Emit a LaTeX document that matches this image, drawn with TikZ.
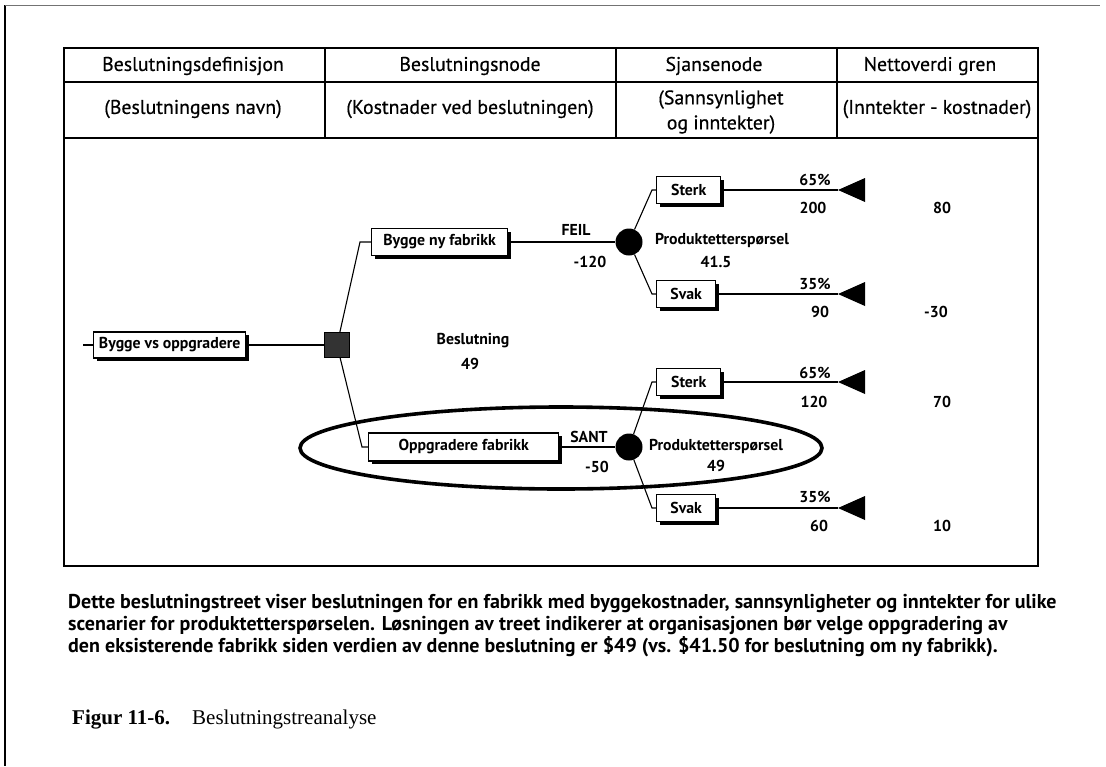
\documentclass[tikz,border=0pt]{standalone}
\usepackage{fontspec}
\setmainfont{Liberation Serif}
\newfontfamily\diagfont{PT Sans}
\newfontfamily\headfont{PT Sans}[FakeBold=0.5]
\usetikzlibrary{shadows}

\begin{document}
\begin{tikzpicture}[x=1pt,y=-1pt,
  rule/.style={line width=1.7pt},
  head/.style={font=\headfont\fontsize{19.8}{25}\selectfont, inner sep=0pt, align=center},
  optbox/.style={draw, line width=1.4pt, fill=white, inner sep=0pt,
    font=\diagfont\bfseries\fontsize{15.8}{18}\selectfont,
    drop shadow={shadow xshift=3pt, shadow yshift=-3pt, fill=black, opacity=1}},
  decbox/.style={draw, line width=1pt, fill=black!80, minimum size=25pt, inner sep=0pt},
  chance/.style={circle, fill=black, minimum size=27pt, inner sep=0pt},
  val/.style={font=\diagfont\bfseries\fontsize{15.8}{18}\selectfont, inner sep=0pt},
  wire/.style={line width=1.1pt},
  tip/.style={fill=black},
  capt/.style={font=\diagfont\bfseries\fontsize{20}{22}\selectfont, inner sep=0pt, anchor=base west}
]
\useasboundingbox (0,0) rectangle (1106,766);

% page frame
\draw[line width=1.2pt] (5,5) -- (5,766);
\draw[black!55, line width=0.7pt] (5,5) -- (1100,5);

% table frame and header rows
\draw[rule] (64,48) rectangle (1038,566);
\draw[rule] (64,82) -- (1038,82);
\draw[rule] (64,138) -- (1038,138);
\foreach \cx in {325,616,837} \draw[rule] (\cx,48) -- (\cx,138);

\node[head] (h1) at (193,66) {Beslutningsdefinisjon};
\node[head] (h2) at (470,66) {Beslutningsnode};
\node[head] (h3) at (714,66) {Sjansenode};
\node[head] (h4) at (930,66) {Nettoverdi gren};

\node[head] (d1) at (193,109) {(Beslutningens navn)};
\node[head] (d2) at (470,109) {(Kostnader ved beslutningen)};
\node[head] (d3) at (721,112) {(Sannsynlighet\\og inntekter)};
\node[head] (d4) at (937,109) {(Inntekter - kostnader)};

% decision level
\node[optbox, minimum width=152pt, minimum height=26pt, anchor=west] (root) at (93,345) {Bygge vs oppgradere};
\coordinate (stub) at (83,345);
\node[decbox] (dec) at (337,345) {};
\node[val] (decname) at (473,341) {Beslutning};
\node[val] (decval) at (470,364) {49};

\node[optbox, minimum width=136pt, minimum height=27pt, anchor=west] (new) at (371,242) {Bygge ny fabrikk};
\node[optbox, minimum width=190pt, minimum height=28pt, anchor=west] (upg) at (368,447) {Oppgradere fabrikk};
\coordinate (knew) at (360,242);
\coordinate (kupg) at (362,447);

\draw[wire] (stub) -- (root.west);
\draw[wire] (root.east) -- (dec.west);
\draw[wire] (dec) -- (knew) -- (new.west);
\draw[wire] (dec) -- (kupg) -- (upg.west);

% chance nodes
\node[chance] (c1) at (629,242) {};
\node[chance] (c2) at (629,447) {};
\draw[wire] (new.east) -- (c1.west);
\draw[wire] (upg.east) -- (c2.west);
\node[val] (feil) at (576,230) {FEIL};
\node[val] (cost1) at (590,262) {-120};
\node[val] (sant) at (589,437) {SANT};
\node[val] (cost2) at (597,467) {-50};

\node[val] (pd1) at (722,240) {Produktetterspørsel};
\node[val] (ev1) at (716,262) {41.5};
\node[val] (pd2) at (716,446) {Produktetterspørsel};
\node[val] (ev2) at (716,466) {49};

% outcome boxes
\tikzset{outbox/.style={optbox, minimum height=27pt, anchor=west, inner xsep=5pt}}
\node[outbox, minimum width=64pt] (s1) at (656,190) {Sterk};
\node[outbox, minimum width=59pt] (w1) at (656,294) {Svak};
\node[outbox, minimum width=64pt] (s2) at (656,382) {Sterk};
\node[outbox, minimum width=59pt] (w2) at (656,508) {Svak};

\coordinate (ks1) at (652,190);
\coordinate (kw1) at (652,294);
\coordinate (ks2) at (652,382);
\coordinate (kw2) at (652,508);
\draw[wire] (c1) -- (ks1) -- (s1.west);
\draw[wire] (c1) -- (kw1) -- (w1.west);
\draw[wire] (c2) -- (ks2) -- (s2.west);
\draw[wire] (c2) -- (kw2) -- (w2.west);

% terminal points
\coordinate (t1) at (838,190);
\coordinate (t2) at (838,294);
\coordinate (t3) at (838,382);
\coordinate (t4) at (838,508);
\foreach \t in {t1,t2,t3,t4}
  \fill[tip] (\t) -- ([shift={(27,-12)}]\t) -- ([shift={(27,12)}]\t) -- cycle;
\draw[wire] (s1.east) -- (t1);
\draw[wire] (w1.east) -- (t2);
\draw[wire] (s2.east) -- (t3);
\draw[wire] (w2.east) -- (t4);

% probabilities, revenues, net values
\node[val] (p1) at (815,180) {65\%};
\node[val] (r1) at (813,208) {200};
\node[val] (n1) at (942,208) {80};
\node[val] (p2) at (815,284) {35\%};
\node[val] (r2) at (820,312) {90};
\node[val] (n2) at (936,312) {-30};
\node[val] (p3) at (815,373) {65\%};
\node[val] (r3) at (814,402) {120};
\node[val] (n3) at (942,402) {70};
\node[val] (p4) at (815,497) {35\%};
\node[val] (r4) at (819,526) {60};
\node[val] (n4) at (942,526) {10};

% highlighted choice
\draw[line width=3.6pt] (561,448) ellipse [x radius=261pt, y radius=41pt];

% caption
\node[capt] (cap1) at (68,608) {Dette beslutningstreet viser beslutningen for en fabrikk med byggekostnader, sannsynligheter og inntekter for ulike};
\node[capt] (cap2) at (68,630) {scenarier for produktetterspørselen. Løsningen av treet indikerer at organisasjonen bør velge oppgradering av};
\node[capt] (cap3) at (68,652) {den eksisterende fabrikk siden verdien av denne beslutning er \$49 (vs. \$41.50 for beslutning om ny fabrikk).};

\node[anchor=base west, inner sep=0pt, font=\fontsize{21}{24}\selectfont] (fig) at (72,724) {\textbf{Figur 11-6.}\hspace{22pt}Beslutningstreanalyse};
\end{tikzpicture}
\end{document}
